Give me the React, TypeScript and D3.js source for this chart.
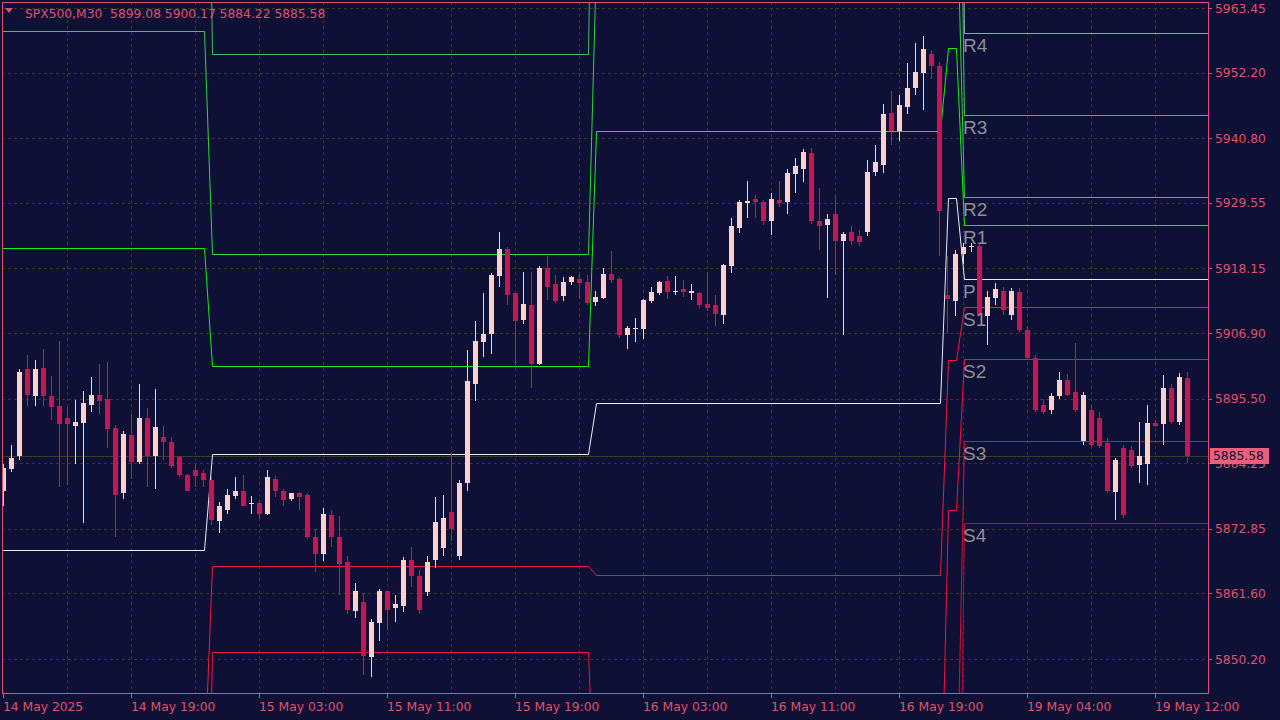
import React from 'react';
import * as d3 from 'd3';

// ---------- DATA ----------
const opens = [
  5879.4, 5883.2, 5885.5, 5900.6, 5895.9, 5900.8, 5895.9, 5894.2, 5892.1, 5890.7,
  5891.2, 5894.3, 5896.1, 5895.4, 5890.3, 5879.0, 5889.1, 5884.4, 5892.2, 5885.6,
  5888.9, 5887.9, 5885.3, 5882.2, 5883.0, 5882.5, 5881.3, 5874.2, 5876.2, 5878.5,
  5879.4, 5877.2, 5877.3, 5875.4, 5881.6, 5879.5, 5878.0, 5879.0, 5878.7, 5871.5,
  5868.4, 5875.2, 5871.4, 5867.0, 5858.5, 5860.2, 5850.5, 5856.4, 5862.0, 5859.0,
  5859.4, 5867.5, 5864.6, 5861.8, 5867.4, 5869.5, 5875.7, 5868.2, 5880.8, 5898.0,
  5905.3, 5906.7, 5916.8, 5921.5, 5913.8, 5909.1, 5911.7, 5901.6, 5918.2, 5915.4,
  5913.3, 5915.7, 5916.3, 5915.7, 5912.3, 5913.0, 5917.1, 5916.3, 5906.5, 5907.6,
  5907.6, 5912.4, 5913.8, 5915.9, 5914.0, 5914.5, 5913.8, 5913.8, 5911.9, 5911.7,
  5910.0, 5918.5, 5925.1, 5929.5, 5930.2, 5929.7, 5926.4, 5930.0, 5929.7, 5934.5,
  5935.4, 5938.2, 5926.4, 5925.7, 5927.6, 5923.0, 5924.4, 5923.7, 5924.4, 5934.9,
  5936.1, 5945.1, 5942.0, 5946.2, 5949.5, 5952.1, 5955.4, 5953.3, 5913.6, 5912.4,
  5920.6, 5922.0, 5922.0, 5909.8, 5913.0, 5914.2, 5910.0, 5914.0, 5907.4, 5902.5,
  5894.3, 5893.5, 5895.9, 5898.8, 5896.6, 5888.2, 5893.5, 5892.1, 5887.7, 5879.2,
  5886.9, 5886.5, 5883.9, 5884.2, 5891.2, 5891.0, 5897.3, 5891.4, 5899.08,
];
const highs = [
  5884.2, 5887.4, 5900.6, 5903.0, 5902.3, 5904.2, 5899.4, 5905.6, 5894.0, 5895.2,
  5896.8, 5899.2, 5901.5, 5901.8, 5890.9, 5889.8, 5892.9, 5898.0, 5893.8, 5897.1,
  5890.7, 5888.9, 5885.6, 5882.3, 5884.1, 5883.0, 5882.0, 5877.5, 5879.7, 5881.8,
  5882.2, 5878.5, 5877.8, 5883.0, 5882.0, 5879.7, 5879.0, 5879.2, 5879.0, 5872.9,
  5876.4, 5876.1, 5875.0, 5868.2, 5863.5, 5861.6, 5857.1, 5862.3, 5862.0, 5861.3,
  5867.9, 5869.6, 5865.6, 5868.2, 5878.3, 5878.7, 5886.0, 5881.3, 5903.9, 5909.0,
  5913.8, 5917.3, 5924.4, 5921.8, 5913.8, 5917.6, 5917.5, 5918.5, 5920.3, 5917.0,
  5916.6, 5916.8, 5917.1, 5917.0, 5914.2, 5918.2, 5921.1, 5916.6, 5908.1, 5909.6,
  5912.8, 5915.0, 5915.9, 5916.8, 5916.8, 5916.1, 5915.4, 5914.0, 5917.5, 5913.6,
  5918.9, 5926.9, 5930.0, 5933.3, 5931.0, 5930.0, 5931.2, 5933.3, 5935.4, 5937.3,
  5938.9, 5939.1, 5932.1, 5927.7, 5930.7, 5924.4, 5925.5, 5924.8, 5937.0, 5939.6,
  5946.7, 5949.0, 5948.3, 5953.8, 5957.3, 5958.5, 5956.1, 5954.0, 5920.3, 5921.3,
  5922.5, 5922.5, 5922.5, 5914.3, 5915.6, 5915.0, 5914.7, 5914.7, 5908.1, 5903.0,
  5895.5, 5896.4, 5900.1, 5899.7, 5905.1, 5896.6, 5894.3, 5893.1, 5888.6, 5885.1,
  5887.4, 5887.2, 5891.4, 5894.3, 5891.7, 5899.6, 5898.0, 5899.9, 5900.17,
];
const lows = [
  5876.9, 5882.7, 5884.8, 5894.2, 5894.2, 5894.2, 5891.7, 5880.2, 5880.4, 5884.2,
  5873.8, 5893.1, 5892.8, 5886.9, 5871.4, 5878.0, 5881.5, 5884.2, 5880.2, 5879.7,
  5884.8, 5883.4, 5881.8, 5879.4, 5880.2, 5880.2, 5873.5, 5872.2, 5875.5, 5878.0,
  5876.8, 5875.5, 5874.5, 5875.2, 5878.3, 5876.8, 5877.6, 5876.2, 5871.0, 5865.3,
  5867.2, 5869.6, 5861.3, 5858.1, 5857.3, 5847.4, 5847.0, 5853.3, 5855.2, 5856.6,
  5858.3, 5862.7, 5858.0, 5861.1, 5866.0, 5868.1, 5870.8, 5867.4, 5879.4, 5895.0,
  5902.7, 5903.2, 5914.9, 5911.7, 5900.9, 5908.4, 5897.3, 5901.3, 5912.6, 5912.2,
  5912.4, 5915.2, 5912.8, 5911.7, 5911.6, 5912.8, 5915.6, 5906.0, 5904.1, 5905.3,
  5905.8, 5912.1, 5913.5, 5912.8, 5913.6, 5913.1, 5912.6, 5911.2, 5910.7, 5908.2,
  5908.4, 5917.3, 5924.3, 5927.0, 5927.0, 5925.7, 5923.9, 5928.8, 5927.7, 5931.2,
  5933.1, 5925.8, 5921.3, 5913.0, 5917.0, 5906.5, 5922.2, 5922.0, 5923.7, 5934.2,
  5934.7, 5939.6, 5940.3, 5945.0, 5948.4, 5945.7, 5951.1, 5920.3, 5906.9, 5909.8,
  5918.9, 5921.0, 5909.8, 5904.8, 5911.7, 5910.0, 5909.1, 5907.0, 5902.2, 5893.1,
  5892.8, 5892.8, 5895.5, 5895.9, 5893.1, 5887.5, 5887.0, 5886.9, 5879.0, 5874.3,
  5874.7, 5883.4, 5880.8, 5880.4, 5890.5, 5887.4, 5891.0, 5890.9, 5884.22,
];
const closes = [
  5883.5, 5885.1, 5900.2, 5896.1, 5900.6, 5895.9, 5894.0, 5891.0, 5891.0, 5891.4,
  5894.7, 5896.1, 5895.0, 5890.2, 5878.8, 5889.3, 5884.4, 5892.1, 5885.5, 5890.5,
  5887.9, 5883.7, 5882.2, 5879.5, 5882.0, 5881.3, 5874.3, 5876.8, 5878.7, 5879.5,
  5876.9, 5877.3, 5875.4, 5881.8, 5879.5, 5877.8, 5879.0, 5878.3, 5871.5, 5868.4,
  5875.5, 5871.4, 5866.7, 5858.8, 5862.0, 5850.7, 5856.6, 5862.0, 5858.8, 5859.7,
  5867.5, 5864.6, 5858.7, 5867.0, 5874.0, 5874.7, 5872.9, 5880.9, 5898.5, 5905.5,
  5906.7, 5917.0, 5921.5, 5913.6, 5909.0, 5911.9, 5901.6, 5918.2, 5914.9, 5912.4,
  5915.7, 5916.6, 5915.6, 5912.1, 5913.1, 5917.1, 5916.1, 5906.5, 5907.7, 5907.7,
  5912.6, 5914.0, 5915.7, 5914.0, 5914.3, 5914.0, 5914.2, 5911.7, 5911.2, 5910.3,
  5918.7, 5925.5, 5929.7, 5929.8, 5929.7, 5926.4, 5930.2, 5929.5, 5934.7, 5935.9,
  5938.4, 5926.4, 5925.5, 5926.7, 5922.9, 5924.1, 5923.0, 5922.7, 5934.9, 5936.6,
  5945.0, 5942.0, 5946.5, 5949.5, 5952.3, 5956.3, 5953.3, 5928.1, 5912.8, 5920.6,
  5921.8, 5922.1, 5910.0, 5913.1, 5914.5, 5910.9, 5914.2, 5907.4, 5902.5, 5893.5,
  5893.1, 5895.9, 5898.7, 5896.2, 5893.5, 5896.2, 5887.4, 5887.2, 5879.4, 5884.8,
  5875.2, 5883.7, 5885.6, 5891.2, 5890.7, 5897.3, 5891.4, 5899.2, 5885.58,
];

const priceTicks = ['5963.45', '5952.20', '5940.80', '5929.55', '5918.15', '5906.90', '5895.50', '5884.25', '5872.85', '5861.60', '5850.20'];
const timeTickBars = [0, 16, 32, 48, 64, 80, 96, 112, 128, 144];
const timeTickLabels = ['14 May 2025', '14 May 19:00', '15 May 03:00', '15 May 11:00', '15 May 19:00', '16 May 03:00', '16 May 11:00', '16 May 19:00', '19 May 04:00', '19 May 12:00'];

// pivot periods (bar ranges) and level values per period
const periodStart = [-2, 26, 74, 118, 120];
const periodEnd = [25, 73, 117, 119, 152];
const levelNames = ['R4', 'R3', 'R2', 'R1', 'P', 'S1', 'S2', 'S3', 'S4'];
const levelR4 = [null, null, null, 6093.2, 5959.1];
const levelR3 = [6049.7, 5955.45, 6049.2, 6038.9, 5944.83];
const levelR2 = [5959.45, 5920.65, 5971.97, 5984.67, 5930.57];
const levelR1 = [5921.7, 5901.17, 5942.05, 5956.49, 5925.7];
const levelP = [5869.16, 5885.86, 5894.73, 5930.39, 5916.3];
const levelS1 = [5831.4, 5866.37, 5864.81, 5902.21, 5911.43];
const levelS2 = [5778.9, 5851.41, 5817.5, 5876.12, 5902.39];
const levelS3 = [5726.0, 5816.6, 5740.2, 5821.8, 5888.12];
const levelS4 = [null, null, null, 5767.6, 5873.85];
const levelColors = ['#86aaa6', '#40be64', '#2ad83a', '#14f014', '#ececf4', '#f01a40', '#ee163e', '#d01436', '#b01030'];

const symbolTitle = 'SPX500,M30  5899.08 5900.17 5884.22 5885.58';
const lastPrice = 5885.58;

// ---------- STYLE ----------
const BG = '#0e1036';
const FG = '#e0506e';
const GRID = '#3b3526';
const BULL = '#fcd0d0';
const BEAR = '#c2165a';
const FONT = '"DejaVu Sans", sans-serif';

const W = 1280, H = 720;
const PL = 2, PR = 1208, PT = 2, PB = 693;

export default function App() {
  const x = d3.scaleLinear().domain([0, 1]).range([4, 12]);
  const y = d3.scaleLinear().domain([5963.45, 5850.2]).range([8, 659]);

  const levels = [levelR4, levelR3, levelR2, levelR1, levelP, levelS1, levelS2, levelS3, levelS4];
  const line = d3.line<[number, number]>()
    .x(d => Math.round(x(d[0])) + 0.5)
    .y(d => Math.round(y(d[1])) + 0.5);
  const levelPaths = levels.map(vals => {
    const pts: [number, number][] = [];
    vals.forEach((v, k) => {
      if (v === null) return;
      pts.push([periodStart[k], v as number]);
      pts.push([periodEnd[k], v as number]);
    });
    return line(pts) || '';
  });

  const lastPeriod = periodStart.length - 1;

  return (
    <svg width={W} height={H} style={{ position: 'fixed', left: 0, top: 0, background: BG }}>
      <defs>
        <clipPath id="plot">
          <rect x={PL} y={PT} width={PR - PL} height={PB - PT} />
        </clipPath>
      </defs>
      <rect x={0} y={0} width={W} height={H} fill={BG} />
      {/* grid */}
      <g stroke={GRID} strokeWidth={1} strokeDasharray="3,3">
        {d3.range(8, 152, 8).map(b => (
          <line key={'v' + b} x1={Math.round(x(b)) - 0.5} x2={Math.round(x(b)) - 0.5} y1={PT} y2={PB} />
        ))}
        {priceTicks.map(t => (
          <line key={'h' + t} x1={PL} x2={PR} y1={Math.round(y(+t)) + 0.5} y2={Math.round(y(+t)) + 0.5} />
        ))}
      </g>
      <g clipPath="url(#plot)">
        {/* bid line */}
        <line x1={PL} x2={PR} y1={Math.round(y(lastPrice)) + 0.5} y2={Math.round(y(lastPrice)) + 0.5} stroke="#3d3a2a" strokeWidth={1} />
        {/* pivot lines */}
        {levelPaths.map((p, k) => (
          <path key={'lv' + k} d={p} fill="none" stroke={levelColors[k]} strokeWidth={1} />
        ))}
        {/* candles */}
        {opens.map((o, i) => {
          const c = closes[i];
          const cx = Math.round(x(i));
          const col = c >= o ? BULL : BEAR;
          const yt = Math.round(y(Math.max(o, c)));
          const yb = Math.round(y(Math.min(o, c)));
          const yh = Math.round(y(highs[i]));
          const yl = Math.round(y(lows[i]));
          return (
            <g key={'c' + i}>
              <rect x={cx - 1} y={yh} width={1} height={Math.max(1, yl - yh)} fill={col} />
              <rect x={cx - 3} y={yt} width={5} height={Math.max(1, yb - yt)} fill={col} />
            </g>
          );
        })}
        {/* level labels */}
        {levels.map((vals, k) => {
          const v = vals[lastPeriod] as number;
          return (
            <text key={'ll' + k} x={x(periodStart[lastPeriod]) - 1} y={y(v) + 19} fill="#8e8e96"
              fontFamily='"Liberation Sans", Arial, sans-serif' fontSize={19}>{levelNames[k]}</text>
          );
        })}
      </g>
      {/* frame */}
      <rect x={PL + 0.5} y={PT + 0.5} width={PR - PL} height={PB - PT} fill="none" stroke={FG} strokeWidth={1} />
      {/* price axis */}
      {priceTicks.map(t => (
        <g key={'pt' + t}>
          <line x1={PR} x2={PR + 4} y1={Math.round(y(+t)) + 0.5} y2={Math.round(y(+t)) + 0.5} stroke={FG} />
          <text x={1215} y={y(+t) + 4.5} fill={FG} fontFamily={FONT} fontSize={12.3}>{t}</text>
        </g>
      ))}
      {/* current price tag */}
      <rect x={1210} y={Math.round(y(lastPrice)) - 8} width={59} height={16} fill="#e8607c" />
      <text x={1213} y={y(lastPrice) + 4.5} fill="#0e1036" fontFamily={FONT} fontSize={12.3}>{lastPrice.toFixed(2)}</text>
      {/* time axis */}
      {timeTickBars.map((b, k) => (
        <g key={'tt' + b}>
          <line x1={Math.round(x(b)) - 0.5} x2={Math.round(x(b)) - 0.5} y1={PB} y2={PB + 5} stroke={FG} />
          <text x={Math.round(x(b)) - 1} y={711} fill={FG} fontFamily={FONT} fontSize={12.3}>{timeTickLabels[k]}</text>
        </g>
      ))}
      {/* title */}
      <polygon points="5,8 13,8 9,13" fill={FG} />
      <text x={25} y={18} fill={FG} fontFamily={FONT} fontSize={12.3} style={{ whiteSpace: 'pre' }}>{symbolTitle}</text>
    </svg>
  );
}
